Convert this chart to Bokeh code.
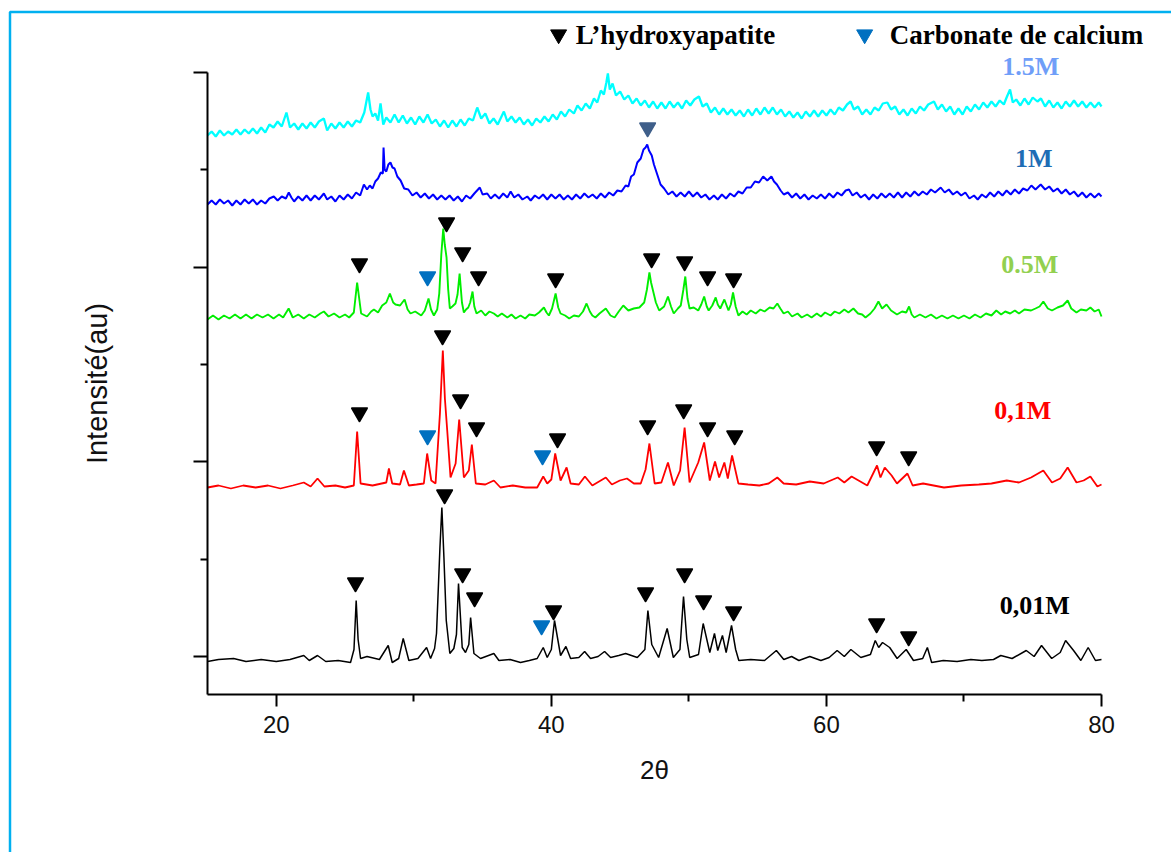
from bokeh.plotting import figure
from bokeh.models import Range1d, FixedTicker, Label, BoxAnnotation
from bokeh.embed import file_html
from bokeh.resources import INLINE

# ---------------- data (2theta, intensity a.u.) ----------------
X_001 = [15.0,15.8,16.9,17.8,18.9,20.0,21.0,22.0,22.4,23.0,23.6,24.5,25.4,25.65,25.81,25.95,26.13,26.6,27.5,28.14,28.43,28.9,29.23,29.64,30.3,30.93,31.22,31.51,31.65,31.9,32.04,32.19,32.36,32.62,32.91,33.1,33.25,33.52,33.76,34.0,34.13,34.37,34.85,35.82,36.19,37.0,37.76,38.4,38.97,39.41,39.7,40.0,40.23,40.67,41.06,41.4,42.0,42.42,42.85,43.4,43.87,44.31,44.9,45.4,46.25,46.8,47.02,47.3,47.8,48.42,48.87,49.35,49.61,49.85,50.06,50.7,51.04,51.52,51.86,52.1,52.44,52.71,53.1,53.4,53.63,54.5,55.5,56.36,56.9,57.47,58.0,58.79,59.6,60.2,60.78,61.3,61.78,62.5,63.2,63.55,63.8,64.08,64.6,65.14,65.8,66.33,67.0,67.34,67.65,68.5,69.5,70.5,71.3,72.15,72.68,73.5,74.53,75.1,75.64,76.38,77.0,77.39,77.97,78.5,79.03,79.56,80.0]
Y_001 = [33,35,36,33,35,33,35,39,34,39,33,34,32,45,94,55,36,38,35,49,32,36,56,34,36,47,36,46,61,147,187,137,74,41,46,60,111,47,42,50,77,41,36,41,34,35,32,34,36,47,37,45,74,39,48,36,37,43,36,38,43,37,39,41,37,45,84,50,37,66,37,45,98,55,37,40,71,42,61,44,59,42,69,45,34,35,34,44,35,38,34,38,34,37,44,38,45,37,40,54,47,52,47,36,45,34,36,47,32,34,33,35,34,35,39,36,44,38,49,36,42,54,44,34,47,34,35]

X_01 = [15.0,15.8,16.7,17.6,18.5,19.4,20.3,21.2,22.0,22.5,23.0,23.5,24.3,25.0,25.64,25.88,26.13,27.0,28.0,28.19,28.43,29.0,29.28,29.64,30.2,30.73,30.97,31.27,31.58,31.9,32.11,32.26,32.43,32.67,33.04,33.3,33.64,34.0,34.22,34.51,35.2,35.82,36.3,37.2,38.1,38.97,39.41,39.7,40.0,40.28,40.67,41.11,41.4,42.0,42.44,42.98,43.96,44.4,44.98,45.5,46.0,46.5,46.85,47.13,47.51,48.0,48.48,48.9,49.36,49.69,50.05,50.68,51.11,51.52,51.9,52.2,52.58,52.83,53.14,53.6,54.3,55.12,55.8,56.43,56.89,57.8,58.79,59.8,60.82,61.3,61.83,62.97,63.68,63.93,64.24,64.74,65.13,65.89,66.27,67.03,68.55,69.8,71.08,72.0,73.11,74.0,74.88,75.77,76.4,77.0,77.54,78.18,78.7,79.19,79.7,80.0]
Y_01 = [207,209,206,209,207,209,206,209,212,208,216,208,209,207,209,263,211,209,212,226,211,210,224,209,210,211,241,214,211,281,344,296,264,217,231,275,217,224,250,211,210,214,207,209,207,207,218,211,215,241,214,227,211,210,218,209,217,210,214,216,211,211,225,251,211,212,232,209,224,267,212,232,252,214,233,217,232,216,239,211,210,209,211,217,211,210,213,211,217,212,218,209,229,217,227,219,211,221,209,211,207,209,210,211,214,212,217,224,212,216,227,212,214,218,208,210]

X_05 = [15.0,15.4,15.8,16.2,16.6,17.0,17.4,17.8,18.2,18.6,19.0,19.4,19.8,20.2,20.5,20.9,21.2,21.6,22.0,22.4,22.8,23.2,23.46,23.8,24.2,24.6,25.0,25.3,25.64,25.88,26.17,26.6,26.9,27.1,27.4,27.7,28.0,28.26,28.5,28.67,29.0,29.33,29.55,29.76,30.1,30.54,30.8,31.07,31.25,31.46,31.7,31.85,32.0,32.14,32.25,32.38,32.5,32.62,32.8,33.03,33.18,33.33,33.5,33.64,33.8,33.96,34.1,34.27,34.4,34.56,34.9,35.2,35.5,35.82,36.1,36.4,36.8,37.1,37.4,37.76,38.1,38.4,38.8,39.1,39.46,39.65,39.82,40.05,40.31,40.5,40.67,41.0,41.3,41.64,42.0,42.3,42.56,42.8,42.98,43.2,43.5,43.96,44.3,44.6,44.9,45.23,45.6,45.99,46.4,46.75,46.95,47.13,47.25,47.39,47.6,47.84,48.2,48.48,48.7,48.9,49.2,49.41,49.6,49.74,49.9,50.05,50.35,50.68,50.9,51.11,51.3,51.44,51.7,51.95,52.1,52.28,52.58,52.88,53.05,53.21,53.4,53.6,53.9,54.2,54.5,54.86,55.2,55.5,55.87,56.15,56.43,56.65,56.89,57.2,57.5,57.9,58.2,58.6,58.92,59.3,59.6,59.9,60.3,60.6,60.94,61.3,61.6,61.96,62.3,62.6,62.84,63.2,63.5,63.78,64.05,64.37,64.7,65.13,65.5,65.8,66.01,66.2,66.39,66.8,67.2,67.6,68.0,68.4,68.8,69.2,69.6,70.0,70.4,70.8,71.2,71.6,72.0,72.35,72.7,73.0,73.36,73.7,74.0,74.4,74.88,75.2,75.5,75.77,76.1,76.4,76.8,77.2,77.54,77.8,78.18,78.5,78.9,79.19,79.5,79.8,80.0]
Y_05 = [375,379,375,379,376,380,376,380,376,380,377,380,376,380,377,386,377,380,376,380,377,381,383,378,381,377,380,377,382,412,381,378,383,385,382,389,392,401,392,390,389,395,385,381,383,379,384,396,385,379,385,401,440,466,450,437,405,386,388,391,400,421,392,382,385,387,392,403,388,381,384,379,383,381,378,381,377,380,376,379,376,380,379,382,387,382,379,386,401,387,381,379,376,379,378,383,391,383,379,377,381,386,379,377,383,389,384,386,387,392,405,422,412,404,392,384,388,398,388,381,386,389,405,418,396,386,387,384,390,398,388,384,389,397,390,386,395,384,390,402,388,379,383,380,384,381,385,383,387,386,391,386,381,383,378,381,377,380,377,381,378,382,379,383,381,385,382,386,381,380,377,381,386,393,386,390,384,380,383,382,388,380,377,380,377,380,376,379,376,379,376,379,376,380,377,381,379,384,380,383,381,384,381,385,384,386,388,393,386,384,387,389,394,386,382,385,384,387,383,385,378]

X_1 = [15.0,15.3,15.6,15.9,16.2,16.5,16.8,17.1,17.4,17.7,18.0,18.3,18.6,18.9,19.2,19.5,19.82,20.1,20.4,20.7,20.91,21.1,21.3,21.6,21.9,22.2,22.5,22.8,23.1,23.46,23.7,24.0,24.3,24.6,24.9,25.2,25.5,25.8,26.1,26.37,26.6,26.8,27.0,27.2,27.4,27.6,27.75,27.8,27.88,28.0,28.15,28.3,28.45,28.6,28.8,29.04,29.3,29.6,29.9,30.2,30.5,30.8,31.1,31.4,31.7,32.0,32.3,32.6,32.9,33.2,33.5,33.8,34.1,34.4,34.8,35.0,35.34,35.6,35.9,36.2,36.5,36.8,37.04,37.3,37.6,37.9,38.25,38.5,38.8,39.1,39.4,39.7,40.0,40.3,40.6,40.9,41.2,41.5,41.8,42.1,42.4,42.7,43.0,43.3,43.6,43.9,44.2,44.5,44.8,45.1,45.4,45.6,45.8,46.0,46.25,46.5,46.7,46.85,46.97,47.1,47.3,47.46,47.7,47.94,48.2,48.5,48.8,49.1,49.4,49.7,50.0,50.3,50.6,50.9,51.2,51.5,51.82,52.1,52.4,52.7,53.0,53.3,53.6,53.9,54.2,54.5,54.8,55.1,55.4,55.7,56.0,56.19,56.4,56.67,56.9,57.2,57.5,57.8,58.1,58.4,58.7,59.0,59.3,59.6,59.9,60.2,60.5,60.8,61.1,61.4,61.64,61.9,62.2,62.5,62.8,63.1,63.4,63.7,64.0,64.3,64.6,64.9,65.2,65.5,65.8,66.1,66.4,66.7,67.0,67.3,67.6,67.9,68.31,68.6,68.9,69.2,69.5,69.8,70.1,70.4,70.73,71.0,71.3,71.6,71.9,72.2,72.5,72.8,73.1,73.4,73.7,74.0,74.3,74.61,74.9,75.2,75.58,75.9,76.2,76.5,76.8,77.1,77.4,77.7,78.0,78.3,78.6,78.9,79.2,79.5,79.8,80.0]
Y_1 = [490,494,490,495,491,494,489,494,490,495,491,495,490,494,491,496,498,494,498,496,502,497,493,498,494,499,494,499,495,501,495,498,493,499,495,500,496,502,499,510,505,509,506,513,516,522,521,547,525,523,530,532,527,526,518,514,506,505,499,502,497,501,496,500,495,499,495,499,494,498,493,499,496,501,507,500,501,496,500,496,501,497,503,497,500,495,498,494,499,496,500,495,500,496,500,495,499,495,500,496,501,497,500,496,501,497,502,499,504,503,509,508,518,520,532,536,545,547,550,544,539,530,520,510,506,500,503,498,502,498,503,498,502,497,500,495,499,495,500,496,501,498,503,501,507,507,513,512,518,514,518,513,510,504,500,502,497,501,496,500,495,499,496,500,496,501,497,502,499,504,505,499,502,497,500,495,500,496,501,497,501,497,502,497,502,498,503,499,503,500,505,502,507,502,505,500,503,499,502,496,499,495,500,497,502,498,503,499,504,500,505,501,506,504,509,505,510,505,508,503,506,501,505,500,503,498,502,497,501,497,501,498]

X_15 = [15.0,15.3,15.6,15.9,16.2,16.5,16.8,17.1,17.4,17.7,18.0,18.3,18.6,18.9,19.2,19.5,19.8,20.1,20.4,20.74,21.0,21.3,21.6,21.9,22.2,22.5,22.8,23.1,23.46,23.7,24.0,24.3,24.6,24.9,25.2,25.5,25.8,26.1,26.4,26.68,26.85,27.0,27.2,27.4,27.58,27.78,28.0,28.3,28.6,28.9,29.2,29.5,29.8,30.1,30.4,30.7,31.0,31.3,31.6,31.9,32.2,32.5,32.8,33.1,33.4,33.7,34.0,34.3,34.61,34.9,35.2,35.5,35.8,36.1,36.55,36.8,37.1,37.4,37.7,38.0,38.3,38.6,38.9,39.2,39.5,39.8,40.1,40.4,40.7,41.0,41.3,41.64,41.9,42.2,42.5,42.8,43.1,43.34,43.6,43.82,44.0,44.11,44.25,44.45,44.7,45.0,45.3,45.6,45.9,46.2,46.5,46.8,47.1,47.4,47.7,48.0,48.3,48.6,48.9,49.2,49.5,49.8,50.1,50.4,50.73,51.0,51.3,51.6,51.9,52.2,52.5,52.8,53.1,53.4,53.7,54.0,54.3,54.6,54.9,55.2,55.5,55.8,56.1,56.4,56.7,57.0,57.3,57.6,57.9,58.2,58.5,58.8,59.1,59.4,59.7,60.0,60.3,60.6,60.9,61.2,61.5,61.76,62.0,62.3,62.6,62.9,63.2,63.5,63.8,64.1,64.43,64.7,65.0,65.3,65.6,65.9,66.2,66.5,66.8,67.1,67.4,67.82,68.1,68.4,68.7,69.0,69.3,69.6,69.9,70.2,70.5,70.8,71.1,71.4,71.7,72.0,72.3,72.6,72.9,73.1,73.35,73.55,73.8,74.1,74.4,74.7,75.0,75.34,75.6,75.9,76.2,76.5,76.8,77.1,77.4,77.7,78.0,78.3,78.6,78.9,79.2,79.5,79.8,80.0]
Y_15 = [559,563,558,564,559,563,560,565,560,565,561,566,561,567,562,570,567,573,568,582,567,571,565,571,566,572,567,573,576,564,571,566,572,567,573,568,574,572,582,602,585,578,581,574,591,570,577,572,580,572,579,571,577,570,578,572,580,571,575,568,574,567,574,568,575,569,576,574,587,576,581,571,576,570,583,573,578,572,577,570,575,569,576,572,578,573,580,575,583,578,585,581,589,584,591,586,596,592,604,600,612,621,605,611,599,603,595,599,591,596,589,594,587,593,586,592,586,593,587,592,586,594,589,595,598,588,591,582,587,580,586,580,585,579,584,578,585,579,586,580,587,581,587,580,585,578,583,577,582,576,583,578,584,578,584,579,585,580,587,584,590,593,585,588,580,585,580,587,584,591,592,585,588,580,585,579,586,581,588,584,590,593,585,590,583,588,580,586,580,588,583,590,585,592,587,593,588,594,590,597,605,592,595,589,596,590,597,593,596,588,594,587,592,586,593,588,594,588,593,587,592,587,592,588]

# peak markers (hydroxyapatite = black, calcium carbonate = blue)
HAP_X = [25.76,32.24,33.55,34.42,40.16,46.85,49.69,51.07,53.25,63.65,65.98,
         26.05,32.09,33.4,34.56,40.45,47.0,49.62,51.36,53.33,63.65,65.98,
         26.05,32.38,33.55,34.71,40.31,47.29,49.69,51.36,53.25]
HAP_Y = [112,200,121,97,84,102,121,94,83,71,58,
         282,359,295,267,256,269,285,267,259,248,238,
         431,472,442,418,416,436,433,418,416]
CARB_X = [39.29,31.0,39.36,31.0]
CARB_Y = [69,259,239,418]
CARB1M_X = [47.0]
CARB1M_Y = [567]

SERIES = ["1.5M", "1M", "0.5M", "0,1M", "0,01M"]
LABEL_X = [74.85, 75.07, 74.78, 74.27, 75.15]
LABEL_Y = [628, 536, 430, 284, 89]

LEGEND = ["L\u2019hydroxyapatite", "Carbonate de calcium"]
LEGEND_MARK_X = [40.53, 62.78]
LEGEND_TEXT_X = [41.77, 64.6]
LEGEND_Y = 660

X_TICKS = [20, 40, 60, 80]
X_MINOR = [30, 50, 70]
Y_TICKS = [38, 233, 427, 622]
Y_MINOR = [135, 330, 525]

# ---------------- figure ----------------
W, H = 1171, 852
PX_PER_DEG = 894 / 65.0
X0 = 15 - 207 / PX_PER_DEG
X1 = 15 + (W - 207) / PX_PER_DEG

p = figure(width=W, height=H, output_backend="svg", toolbar_location=None,
           title=None, x_range=Range1d(X0, X1), y_range=Range1d(694 - H, 694),
           min_border=0, min_border_left=0, min_border_right=0,
           min_border_top=0, min_border_bottom=0)
p.outline_line_color = None
p.grid.visible = False
p.background_fill_color = "white"
p.border_fill_color = "white"

lines = [(X_15, Y_15, "#00FFFF", 2.3), (X_1, Y_1, "#0000FF", 2.0),
         (X_05, Y_05, "#00EE00", 1.9), (X_01, Y_01, "#FF0000", 1.8),
         (X_001, Y_001, "#000000", 1.5)]
for xs, ys, c, w in lines:
    p.line(xs, ys, line_color=c, line_width=w)

p.scatter(HAP_X, HAP_Y, marker="inverted_triangle", size=15, fill_color="black",
          line_color="black", line_width=2, line_join="round")
p.scatter(CARB_X, CARB_Y, marker="inverted_triangle", size=15, fill_color="#0070C0",
          line_color="#0070C0", line_width=2, line_join="round")
p.scatter(CARB1M_X, CARB1M_Y, marker="inverted_triangle", size=15, fill_color="#3F5F8A",
          line_color="#3F5F8A", line_width=2, line_join="round")

label_colors = ["#6F9EF8", "#1F6DB5", "#92D050", "#FF0000", "#000000"]
for s, lx, ly, c in zip(SERIES, LABEL_X, LABEL_Y, label_colors):
    p.add_layout(Label(x=lx, y=ly, text=s, text_color=c, text_font="Liberation Serif",
                       text_font_style="bold", text_font_size="26px",
                       text_align="center", text_baseline="middle"))

# legend
p.scatter(LEGEND_MARK_X, [LEGEND_Y] * 2, marker="inverted_triangle", size=16,
          fill_color=["black", "#0070C0"], line_color=["black", "#0070C0"])
for t, lx in zip(LEGEND, LEGEND_TEXT_X):
    p.add_layout(Label(x=lx, y=LEGEND_Y, text=t, text_font="Liberation Serif",
                       text_font_style="bold", text_font_size="27px", text_baseline="middle",
                       text_color="black"))

# axes (placed at fixed locations inside the full-canvas frame)
xa = p.xaxis[0]
xa.fixed_location = 0
xa.bounds = (15, 80)
xa.ticker = FixedTicker(ticks=X_TICKS, minor_ticks=X_MINOR)
xa.axis_line_width = 2
xa.major_tick_line_width = 2
xa.minor_tick_line_width = 2
xa.major_tick_out = 12
xa.major_tick_in = 0
xa.minor_tick_out = 7
xa.minor_tick_in = 0
xa.major_label_text_font = "Liberation Sans"
xa.major_label_text_font_size = "24px"
xa.major_label_text_color = "#111111"
xa.major_label_standoff = 9
xa.axis_label = "2\u03b8"
xa.axis_label_text_font = "Liberation Sans"
xa.axis_label_text_font_size = "26px"
xa.axis_label_text_font_style = "normal"
xa.axis_label_text_color = "#111111"
xa.axis_label_standoff = 19

ya = p.yaxis[0]
ya.fixed_location = 15
ya.bounds = (0, 622)
ya.ticker = FixedTicker(ticks=Y_TICKS, minor_ticks=Y_MINOR)
ya.axis_line_width = 2
ya.major_tick_line_width = 2
ya.minor_tick_line_width = 2
ya.major_tick_out = 14
ya.major_tick_in = 0
ya.minor_tick_out = 7
ya.minor_tick_in = 0
ya.major_label_overrides = {t: "" for t in Y_TICKS}
ya.major_label_text_font_size = "0px"
ya.axis_label = "Intensité(au)"
ya.axis_label_text_font = "Liberation Sans"
ya.axis_label_text_font_size = "29px"
ya.axis_label_text_font_style = "normal"
ya.axis_label_text_color = "#111111"
ya.axis_label_standoff = 81

# outer frame line of the figure panel
p.add_layout(BoxAnnotation(left=X0 + 9.5 / PX_PER_DEG, right=X1 + 10, top=694 - 11.5,
                           bottom=-400, fill_alpha=0, line_color="#00B0F0",
                           line_alpha=1.0, line_width=2.5))

open("out.html", "w").write(file_html(p, INLINE))
